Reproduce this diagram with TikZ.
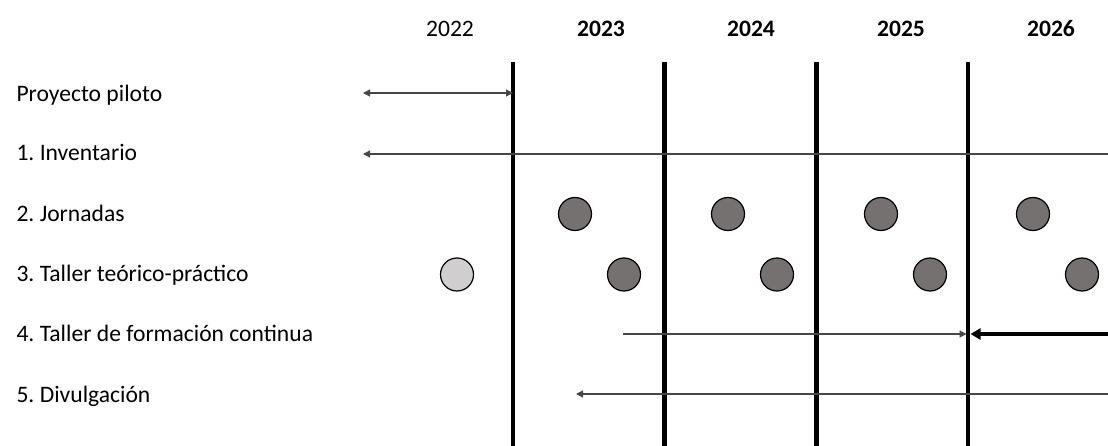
\documentclass[tikz,border=0pt]{standalone}
\usepackage{fontspec}
\setmainfont{Carlito}
\frenchspacing
\usetikzlibrary{arrows.meta}
\definecolor{eventgray}{HTML}{767171}
\definecolor{pilotgray}{HTML}{D0CECE}
\begin{document}
\begin{tikzpicture}[x=1pt,y=-1pt,font=\fontsize{23.6}{28}\selectfont]
\tikzset{year/.style={anchor=base},
  task/.style={anchor=base west},
  divider/.style={line width=4.5pt},
  span/.style={draw=black!72,line width=1.1pt},
  tipl/.style={-{Triangle[length=7pt,width=7pt]}},
  tipb/.style={{Triangle[length=7pt,width=7pt]}-{Triangle[length=7pt,width=7pt]}},
  event/.style={circle,draw,line width=1.2pt,minimum size=33pt,inner sep=0pt,fill=eventgray}}
\useasboundingbox (0,0) rectangle (1108,446);
% years
\node[year] (y2022) at (450,37) {2022};
\node[year] (y2023) at (601,37) {\bfseries 2023};
\node[year] (y2024) at (751,37) {\bfseries 2024};
\node[year] (y2025) at (901,37) {\bfseries 2025};
\node[year] (y2026) at (1051,37) {\bfseries 2026};
% dividers
\foreach \x/\n in {513/1,664.5/2,816.3/3,968/4} {
  \coordinate (top\n) at (\x,62);
  \coordinate (bot\n) at (\x,446);
  \draw[divider] (top\n) -- (bot\n);
}
% tasks
\node[task] (piloto) at (13,101.5) {Proyecto piloto};
\node[task] (inv) at (13,161) {1. Inventario};
\node[task] (jor) at (13,221.5) {2. Jornadas};
\node[task] (tal) at (13,282) {3. Taller teórico-práctico};
\node[task] (form) at (13,341.5) {4. Taller de formación continua};
\node[task] (div) at (13,402) {5. Divulgación};
% spans
\coordinate (pilotoA) at (363,93);
\coordinate (pilotoB) at (513,93);
\draw[span,tipb] (pilotoA) -- (pilotoB);
\coordinate (invA) at (1108,154);
\coordinate (invB) at (363,154);
\draw[span,tipl] (invA) -- (invB);
\coordinate (formA) at (623,334);
\coordinate (formB) at (966.5,334);
\draw[span,tipl] (formA) -- (formB);
\coordinate (formC) at (1108,334);
\coordinate (formD) at (970.5,334);
\draw[line width=3.8pt,-{Triangle[length=10pt,width=11pt]}] (formC) -- (formD);
\coordinate (divA) at (1108,394);
\coordinate (divB) at (576,394);
\draw[span,tipl] (divA) -- (divB);
% events
\foreach \x/\n in {575/1,728/2,881/3,1033/4}
  \node[event] (jor\n) at (\x,214) {};
\node[event,fill=pilotgray] (tal0) at (457,274.5) {};
\foreach \x/\n in {624/1,777/2,930/3,1082/4}
  \node[event] (tal\n) at (\x,274.5) {};
\end{tikzpicture}
\end{document}
